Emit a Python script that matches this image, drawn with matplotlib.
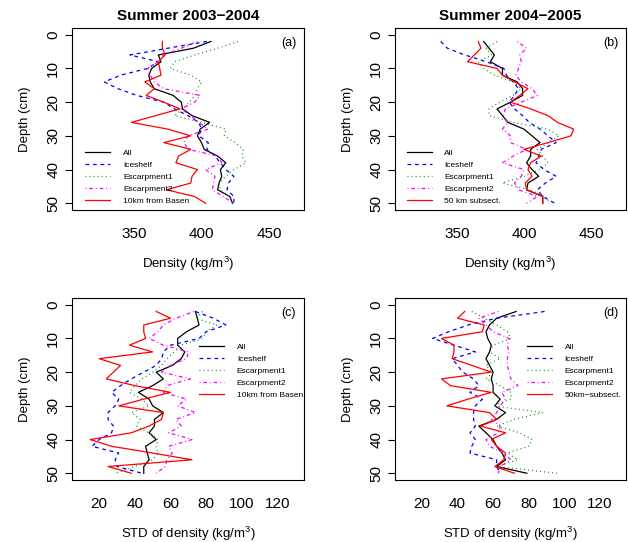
import numpy as np
import matplotlib
matplotlib.use("Agg")
import matplotlib.pyplot as plt

plt.rcParams.update({
    "font.family": ["Liberation Sans", "DejaVu Sans"],
    "mathtext.fontset": "custom",
    "mathtext.rm": "Liberation Sans",
    "mathtext.it": "Liberation Sans:italic",
    "axes.linewidth": 0.8,
})

depth = np.arange(2, 51, 2)

# panel (a): density, summer 2003-2004
a_all = [407, 394, 368, 370, 363, 361, 362, 365, 379, 385, 386, 393, 406, 399, 397, 400, 402, 412, 418, 414, 415, 413, 412, 421, 423]
a_ice = [404, 375, 347, 368, 360, 340, 328, 338, 352, 372, 380, 390, 398, 400, 398, 405, 404, 410, 414, 418, 424, 420, 419, 424, 424]
a_esc1 = [427, 412, 395, 380, 377, 392, 400, 397, 395, 391, 386, 380, 400, 418, 417, 425, 431, 430, 433, 424, 418, 413, 414, 421, 423]
a_esc2 = [397, 385, 372, 368, 360, 362, 365, 372, 399, 395, 385, 392, 398, 405, 390, 387, 390, 412, 415, 403, 410, 409, 408, 416, 424]
a_sub = [371, 371, 373, 368, 369, 370, 358, 365, 359, 372, 384, 366, 348, 375, 392, 372, 392, 383, 381, 397, 393, 392, 374, 395, 403]

# panel (b): density, summer 2004-2005
b_all = [370, 374, 378, 375, 384, 384, 395, 399, 399, 390, 380, 384, 388, 400, 406, 412, 405, 405, 402, 406, 411, 403, 402, 414, 414]
b_ice = [338, 343, 356, 372, 385, 387, 392, 396, 393, 389, 393, 399, 404, 412, 418, 424, 413, 411, 409, 415, 424, 416, 410, 414, 423]
b_esc1 = [380, 372, 376, 366, 370, 378, 392, 398, 392, 382, 374, 374, 392, 418, 426, 418, 410, 414, 418, 412, 400, 384, 404, 416, 419]
b_esc2 = [395, 402, 397, 398, 396, 394, 398, 406, 410, 398, 386, 385, 388, 384, 390, 390, 402, 392, 384, 400, 398, 393, 396, 410, 402]
b_sub = [366, 368, 363, 358, 380, 384, 393, 403, 397, 390, 405, 418, 425, 437, 435, 418, 400, 413, 405, 403, 406, 401, 402, 414, 414]

# panel (c): std of density, summer 2003-2004
c_all = [74, 75, 76, 69, 64, 64, 68, 66, 61, 52, 56, 50, 42, 48, 50, 56, 51, 51, 48, 52, 46, 47, 48, 45, 45]
c_ice = [74, 84, 91, 80, 76, 60, 56, 55, 52, 45, 38, 32, 27, 31, 29, 25, 25, 28, 27, 20, 16, 31, 29, 30, 44]
c_esc1 = [78, 74, 86, 80, 78, 66, 62, 58, 55, 50, 44, 40, 37, 44, 48, 38, 43, 41, 48, 53, 52, 53, 50, 40, 29]
c_esc2 = [73, 63, 56, 53, 48, 56, 70, 69, 60, 55, 71, 58, 56, 69, 64, 74, 63, 66, 59, 72, 59, 61, 58, 57, 52]
c_sub = [52, 60, 45, 45, 46, 37, 50, 20, 32, 28, 24, 40, 60, 45, 31, 56, 55, 48, 38, 15, 27, 50, 72, 25, 38]

# panel (d): std of density, summer 2004-2005
d_all = [73, 62, 58, 56, 57, 59, 58, 56, 58, 60, 59, 60, 60, 64, 61, 67, 62, 52, 56, 60, 62, 65, 67, 62, 79]
d_ice = [89, 62, 46, 35, 26, 38, 50, 37, 40, 43, 49, 52, 47, 54, 50, 49, 49, 50, 47, 50, 48, 47, 62, 62, 64]
d_esc1 = [48, 55, 62, 68, 70, 60, 58, 64, 56, 60, 56, 64, 70, 70, 60, 88, 72, 62, 75, 82, 80, 68, 74, 62, 96]
d_esc2 = [63, 52, 56, 60, 69, 68, 69, 68, 68, 69, 70, 74, 65, 67, 64, 62, 59, 64, 63, 56, 58, 66, 70, 64, 63]
d_sub = [44, 40, 55, 54, 31, 38, 38, 37, 48, 59, 31, 36, 59, 46, 34, 58, 62, 53, 67, 59, 62, 67, 66, 61, 72]

names_a = ["All", "Iceshelf", "Escarpment1", "Escarpment2", "10km from Basen"]
names_b = ["All", "Iceshelf", "Escarpment1", "Escarpment2", "50 km subsect."]
names_d = ["All", "Iceshelf", "Escarpment1", "Escarpment2", "50km\u2212subsect."]

colors = ["black", "#0000FF", "#008B00", "#FF00FF", "#FF0000"]
dashes = [None, (3, 3), (0.75, 2.5), (0.75, 2.25, 3, 2.25), None]

fig = plt.figure(figsize=(6.28, 5.42), dpi=100)
W, H = 628, 542


def panel(x0, x1, y0, y1):
    return fig.add_axes([x0 / W, 1 - y1 / H, (x1 - x0) / W, (y1 - y0) / H])


ax_a = panel(72, 304, 28, 210)
ax_b = panel(395, 626, 28, 210)
ax_c = panel(72, 304, 298, 480)
ax_d = panel(395, 626, 298, 480)

setup = [
    (ax_a, [a_all, a_ice, a_esc1, a_esc2, a_sub], names_a, "(a)", (304, 476), [350, 400, 450],
     "Density (kg/m$^3$)", "lower left", (0.058, 0.03)),
    (ax_b, [b_all, b_ice, b_esc1, b_esc2, b_sub], names_b, "(b)", (304, 476), [350, 400, 450],
     "Density (kg/m$^3$)", "lower left", (0.051, 0.03)),
    (ax_c, [c_all, c_ice, c_esc1, c_esc2, c_sub], names_a, "(c)", (4.8, 134.8), [20, 40, 60, 80, 100, 120],
     "STD of density (kg/m$^3$)", "upper left", (0.549, 0.75)),
    (ax_d, [d_all, d_ice, d_esc1, d_esc2, d_sub], names_d, "(d)", (4.8, 134.8), [20, 40, 60, 80, 100, 120],
     "STD of density (kg/m$^3$)", "upper left", (0.572, 0.75)),
]

for ax, series, names, tag, xlim, xticks, xlabel, loc, anchor in setup:
    for vals, name, col, ds in zip(series, names, colors, dashes):
        line, = ax.plot(vals, depth, color=col, lw=0.9, label=name)
        if ds is not None:
            line.set_dashes(ds)
    ax.set_xlim(*xlim)
    ax.set_ylim(52, -2)
    ax.set_xticks(xticks)
    ax.set_yticks([0, 10, 20, 30, 40, 50])
    ax.tick_params(axis="x", length=0, pad=12, labelsize=11)
    ax.tick_params(axis="y", length=5, width=0.8, pad=3.5, labelsize=11, labelrotation=90)
    for lab in ax.get_yticklabels():
        lab.set_va("center")
    ax.set_xlabel(xlabel, fontsize=9.5, labelpad=10.5)
    ax.set_ylabel("Depth (cm)", fontsize=9.5, labelpad=11)
    ax.text(0.935, 0.915, tag, transform=ax.transAxes, ha="center", va="center", fontsize=9)
    ax.legend(loc=loc, bbox_to_anchor=anchor, frameon=False, fontsize=6,
              handlelength=3.0, handletextpad=1.5, labelspacing=0.5,
              borderpad=0, borderaxespad=0)

ax_a.set_title("Summer 2003\u22122004", fontsize=11, fontweight="bold", pad=5.5)
ax_b.set_title("Summer 2004\u22122005", fontsize=11, fontweight="bold", pad=5.5)

fig.savefig("out.png", dpi=100)
